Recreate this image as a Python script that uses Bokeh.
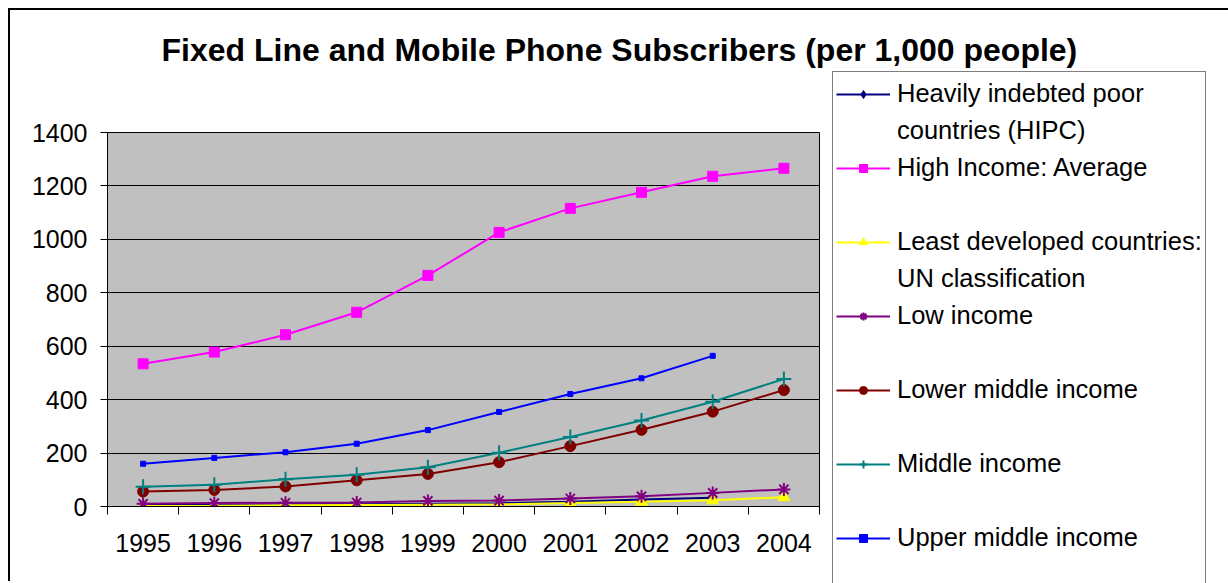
from bokeh.plotting import figure
from bokeh.models import Legend, LegendItem, FixedTicker, Title
from bokeh.embed import file_html
from bokeh.resources import INLINE

years = [1995, 1996, 1997, 1998, 1999, 2000, 2001, 2002, 2003, 2004]
NaN = float("nan")
hipc = [6, 7, 8, 8, 10, 12, 18, 26, 33, NaN]
high_income = [534, 578, 643, 727, 865, 1026, 1116, 1176, 1236, 1266]
least_developed = [2, 3, 5, 6, 7, 8, 13, 18, 23, 35]
low_income = [10, 13, 14, 15, 21, 22, 30, 38, 51, 64]
lower_middle = [56, 62, 75, 98, 122, 166, 226, 287, 355, 436]
middle_income = [74, 81, 102, 119, 147, 201, 260, 322, 392, 477]
upper_middle = [160, 182, 203, 235, 286, 354, 421, 480, 564, NaN]
y_ticks = [0, 200, 400, 600, 800, 1000, 1200, 1400]

FONT = "Liberation Sans"
xs = [i + 0.5 for i in range(len(years))]

p = figure(frame_width=712, frame_height=374, output_backend="svg", toolbar_location=None,
           x_range=(0, len(years)), y_range=(0, 1400),
           min_border_left=97, min_border_right=0, min_border_top=122,
           min_border_bottom=75)
p.styles = {"margin-left": "8px", "margin-top": "8px",
            "border-left": "2px solid #000000", "border-top": "2px solid #000000"}
p.background_fill_color = "#C0C0C0"
p.border_fill_color = "#FFFFFF"
p.outline_line_color = "#000000"
p.outline_line_width = 1

# spacer between the frame and the main title
p.add_layout(Title(text=" ", text_font_size="10px", standoff=52), "above")

p.title.text = "Fixed Line and Mobile Phone Subscribers (per 1,000 people)"
p.title.text_font = FONT
p.title.text_font_size = "32px"
p.title.text_font_style = "bold"
p.title.text_color = "#000000"
p.title.align = "left"
p.title.offset = 54
p.title.standoff = 0

p.xgrid.visible = False
p.ygrid.ticker = FixedTicker(ticks=y_ticks)
p.ygrid.grid_line_color = "#000000"
p.ygrid.grid_line_width = 1

p.yaxis.ticker = FixedTicker(ticks=y_ticks)
p.yaxis.major_tick_in = 0
p.yaxis.major_tick_out = 7
p.yaxis.minor_tick_out = 0
p.yaxis.major_label_standoff = 13
p.yaxis.axis_line_color = "#000000"
p.yaxis.major_tick_line_color = "#000000"
p.yaxis.major_label_text_font = FONT
p.yaxis.major_label_text_font_size = "25px"
p.yaxis.major_label_text_color = "#000000"

p.xaxis.ticker = FixedTicker(ticks=xs, minor_ticks=list(range(len(years) + 1)))
p.xaxis.major_label_overrides = {x: str(y) for x, y in zip(xs, years)}
p.xaxis.major_tick_in = 0
p.xaxis.major_tick_out = 0
p.xaxis.minor_tick_in = 0
p.xaxis.minor_tick_out = 8
p.xaxis.minor_tick_line_color = "#000000"
p.xaxis.major_label_standoff = 19
p.xaxis.axis_line_color = "#000000"
p.xaxis.major_label_text_font = FONT
p.xaxis.major_label_text_font_size = "25px"
p.xaxis.major_label_text_color = "#000000"

series = [
    ("Heavily indebted poor|countries (HIPC)", hipc, "#000080", "diamond", 11),
    ("High Income: Average", high_income, "#FF00FF", "square", 10),
    ("Least developed countries:|UN classification", least_developed, "#FFFF00", "triangle", 12),
    ("Low income", low_income, "#800080", "asterisk", 13),
    ("Lower middle income", lower_middle, "#800000", "circle", 11),
    ("Middle income", middle_income, "#008080", "cross", 15),
    ("Upper middle income", upper_middle, "#0000FF", "square", 5),
]

dummy = p.line(x=[], y=[], line_alpha=0)
items = []
for label, ys, color, marker, size in series:
    r1 = p.line(xs, ys, line_color=color, line_width=2)
    if marker in ("cross", "asterisk"):
        r2 = p.scatter(xs, ys, marker=marker, size=size, line_color=color, line_width=2)
    else:
        r2 = p.scatter(xs, ys, marker=marker, size=size, fill_color=color, line_color=color)
    parts = label.split("|")
    items.append(LegendItem(label=parts[0], renderers=[r1, r2]))
    if len(parts) > 1:
        items.append(LegendItem(label=parts[1], renderers=[dummy]))
    else:
        items.append(LegendItem(label=" ", renderers=[dummy]))

legend = Legend(items=items, location=(13, -91))
legend.label_text_font = FONT
legend.label_text_font_size = "25.5px"
legend.label_text_color = "#000000"
legend.glyph_width = 54
legend.glyph_height = 20
legend.label_height = 37
legend.label_standoff = 7
legend.spacing = 0
legend.padding = 3
legend.margin = 0
legend.border_line_color = "#000000"
legend.border_line_width = 1
legend.background_fill_color = "#FFFFFF"
legend.background_fill_alpha = 1.0
p.add_layout(legend, "right")

open("out.html", "w").write(file_html(p, INLINE))
